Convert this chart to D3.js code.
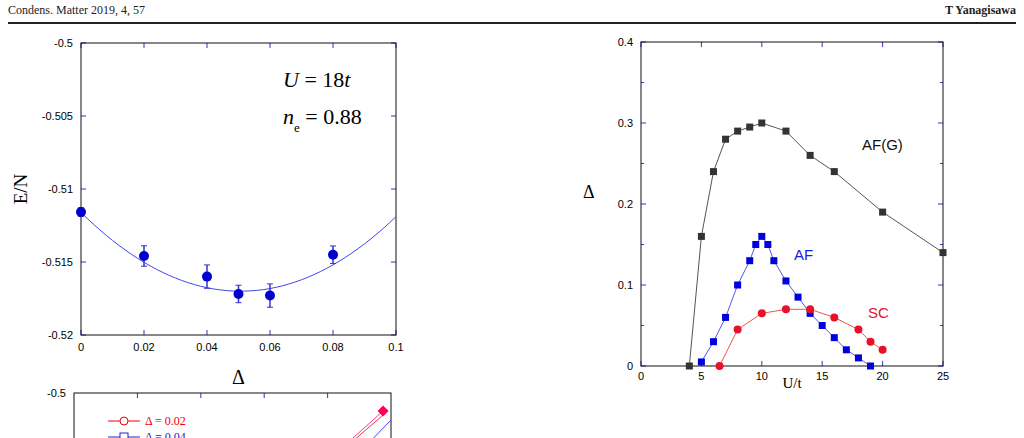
<!DOCTYPE html>
<html><head><meta charset="utf-8">
<script src="https://cdn.jsdelivr.net/npm/d3@7"></script>
<style>body{margin:0;background:#fff;overflow:hidden} .serif{font-family:"Liberation Serif","Times New Roman",serif}</style>
</head><body>
<script>
// data
const deltaX = [0, 0.02, 0.04, 0.05, 0.06, 0.08]
const energy = [-0.51158, -0.51459, -0.5160, -0.51719, -0.5173, -0.5145]
const energyErr = [0.0003, 0.0007, 0.0008, 0.0006, 0.0008, 0.0006]
const fitCoef = {a: 2.10, h: 0.0507, k: -0.5170}   // parabola fit E = a(x-h)^2 + k
const eTicks = [-0.5, -0.505, -0.51, -0.515, -0.52]
const dTicks = [0, 0.02, 0.04, 0.06, 0.08, 0.1]

const afgU = [4, 5, 6, 7, 8, 9, 10, 12, 14, 16, 20, 25]
const afgD = [0, 0.16, 0.24, 0.28, 0.29, 0.295, 0.3, 0.29, 0.26, 0.24, 0.19, 0.14]
const afU = [5, 6, 7, 8, 9, 9.5, 10, 10.5, 11, 12, 13, 14, 15, 16, 17, 18, 19]
const afD = [0.005, 0.03, 0.06, 0.1, 0.13, 0.15, 0.16, 0.15, 0.13, 0.105, 0.085, 0.065, 0.05, 0.035, 0.02, 0.01, 0]
const scU = [6.5, 8, 10, 12, 14, 16, 18, 19, 20]
const scD = [0, 0.045, 0.065, 0.07, 0.07, 0.06, 0.045, 0.03, 0.02]
const uTicks = [0, 5, 10, 15, 20, 25]
const rTicks = [0, 0.1, 0.2, 0.3, 0.4]

// lower (cut off) panel
const lowX = [0.88, 0.975]
const lowMag = [-0.5045, -0.5018]
const lowRed = [-0.5048, -0.5022]
const lowBlue = [-0.5045, -0.5027]
const lowBlueX = [0.945, 1.0]

const svg = d3.select('body').append('svg').attr('width', 1024).attr('height', 438)
  .style('font-family', 'Liberation Sans, Arial, sans-serif')

// page header
svg.append('text').attr('class', 'serif').attr('x', 8).attr('y', 14)
  .attr('font-size', 12).attr('fill', '#222').text('Condens. Matter 2019, 4, 57')
svg.append('text').attr('class', 'serif').attr('x', 1016).attr('y', 14).attr('text-anchor', 'end')
  .attr('font-size', 12).attr('font-weight', 'bold').attr('fill', '#222').text('T Yanagisawa')
svg.append('line').attr('x1', 8).attr('x2', 1016).attr('y1', 23).attr('y2', 23).attr('stroke', '#222').attr('stroke-width', 2)

function ticks(g, x, y, w, h, xs, xt, ys, yt, len) {
  xt.forEach(t => {
    g.append('line').attr('x1', xs(t)).attr('x2', xs(t)).attr('y1', y + h).attr('y2', y + h - len).attr('stroke', '#33c')
    g.append('line').attr('x1', xs(t)).attr('x2', xs(t)).attr('y1', y).attr('y2', y + len).attr('stroke', '#33c')
  })
  yt.forEach(t => {
    g.append('line').attr('x1', x).attr('x2', x + len).attr('y1', ys(t)).attr('y2', ys(t)).attr('stroke', '#33c')
    g.append('line').attr('x1', x + w).attr('x2', x + w - len).attr('y1', ys(t)).attr('y2', ys(t)).attr('stroke', '#33c')
  })
}

// left top panel
{
  const x0 = 81, x1 = 396, y0 = 43, y1 = 335
  const xs = d3.scaleLinear().domain([0, 0.1]).range([x0, x1])
  const ys = d3.scaleLinear().domain([-0.52, -0.5]).range([y1, y0])
  const g = svg.append('g')
  ticks(g, x0, y0, x1 - x0, y1 - y0, xs, dTicks, ys, eTicks, 5)
  g.append('rect').attr('x', x0).attr('y', y0).attr('width', x1 - x0).attr('height', y1 - y0)
    .attr('fill', 'none').attr('stroke', '#111')
  eTicks.forEach(t => g.append('text').attr('x', x0 - 8).attr('y', ys(t) + 4).attr('text-anchor', 'end')
    .attr('font-size', 11).text(t))
  dTicks.forEach(t => g.append('text').attr('x', xs(t)).attr('y', y1 + 16).attr('text-anchor', 'middle')
    .attr('font-size', 11).text(t))
  const fx = d3.range(0, 0.1001, 0.002)
  g.append('path').attr('d', d3.line().x(d => xs(d)).y(d => ys(fitCoef.a * (d - fitCoef.h) ** 2 + fitCoef.k))(fx))
    .attr('fill', 'none').attr('stroke', '#44e').attr('stroke-width', 1)
  deltaX.forEach((d, i) => {
    const cx = xs(d), lo = ys(energy[i] - energyErr[i]), hi = ys(energy[i] + energyErr[i])
    g.append('line').attr('x1', cx).attr('x2', cx).attr('y1', lo).attr('y2', hi).attr('stroke', '#33c').attr('stroke-width', 1.5)
    g.append('line').attr('x1', cx - 3).attr('x2', cx + 3).attr('y1', lo).attr('y2', lo).attr('stroke', '#33c')
    g.append('line').attr('x1', cx - 3).attr('x2', cx + 3).attr('y1', hi).attr('y2', hi).attr('stroke', '#33c')
    g.append('circle').attr('cx', cx).attr('cy', ys(energy[i])).attr('r', 5).attr('fill', '#0000cc')
  })
  g.append('text').attr('class', 'serif').attr('x', 27).attr('y', 189).attr('transform', 'rotate(-90,27,189)')
    .attr('text-anchor', 'middle').attr('font-size', 19).text('E/N')
  g.append('text').attr('class', 'serif').attr('x', xs(0.05)).attr('y', 384).attr('text-anchor', 'middle')
    .attr('font-size', 20).text('Δ')
  const lab = g.append('g').attr('class', 'serif').attr('font-size', 22)
  const t1 = lab.append('text').attr('x', 283).attr('y', 87)
  t1.append('tspan').attr('font-style', 'italic').text('U')
  t1.append('tspan').text(' = 18')
  t1.append('tspan').attr('font-style', 'italic').text('t')
  const t2 = lab.append('text').attr('x', 283).attr('y', 124)
  t2.append('tspan').attr('font-style', 'italic').text('n')
  t2.append('tspan').attr('font-size', 13).attr('dy', 8).text('e')
  t2.append('tspan').attr('dy', -8).text(' = 0.88')
}

// left bottom panel (cut off)
{
  const x0 = 74, x1 = 391, y0 = 393
  const xs = d3.scaleLinear().domain([0, 1]).range([x0, x1])
  const ys = d3.scaleLinear().domain([-0.5, -0.51]).range([y0, y0 + 100])
  const g = svg.append('g')
  d3.range(0.2, 1, 0.2).forEach(t => g.append('line').attr('x1', xs(t)).attr('x2', xs(t))
    .attr('y1', y0).attr('y2', y0 + 5).attr('stroke', '#33c'))
  g.append('rect').attr('x', x0).attr('y', y0).attr('width', x1 - x0).attr('height', 100)
    .attr('fill', 'none').attr('stroke', '#111')
  g.append('text').attr('x', x0 - 8).attr('y', y0 + 4).attr('text-anchor', 'end').attr('font-size', 11).text('-0.5')
  const ln = d3.line().x((d, i) => xs(lowX[i])).y(d => ys(d))
  g.append('path').attr('d', ln(lowMag)).attr('stroke', '#f3a').attr('fill', 'none')
  g.append('path').attr('d', ln(lowRed)).attr('stroke', '#e33').attr('fill', 'none')
  g.append('path').attr('d', d3.line().x((d, i) => xs(lowBlueX[i])).y(d => ys(d))(lowBlue)).attr('stroke', '#44e').attr('fill', 'none')
  g.append('path').attr('d', d3.symbol(d3.symbolSquare, 60)())
    .attr('transform', `translate(${xs(lowX[1])},${ys(lowMag[1])}) rotate(45)`).attr('fill', '#f05')
  g.append('line').attr('x1', 108).attr('x2', 140).attr('y1', 421).attr('y2', 421).attr('stroke', '#e00')
  g.append('circle').attr('cx', 124).attr('cy', 421).attr('r', 4).attr('fill', '#fff').attr('stroke', '#e00')
  g.append('text').attr('class', 'serif').attr('x', 145).attr('y', 425).attr('fill', '#e00')
    .attr('font-size', 12).text('Δ = 0.02')
  g.append('line').attr('x1', 108).attr('x2', 140).attr('y1', 437).attr('y2', 437).attr('stroke', '#22c')
  g.append('rect').attr('x', 120).attr('y', 433).attr('width', 8).attr('height', 8).attr('fill', '#fff').attr('stroke', '#22c')
  g.append('text').attr('class', 'serif').attr('x', 145).attr('y', 441).attr('fill', '#22c')
    .attr('font-size', 12).text('Δ = 0.04')
}

// right panel
{
  const x0 = 641, x1 = 943, y0 = 42, y1 = 366
  const xs = d3.scaleLinear().domain([0, 25]).range([x0, x1])
  const ys = d3.scaleLinear().domain([0, 0.4]).range([y1, y0])
  const g = svg.append('g')
  ticks(g, x0, y0, x1 - x0, y1 - y0, xs, uTicks, ys, rTicks, 5)
  ticks(g, x0, y0, x1 - x0, y1 - y0, xs, [], ys, [0.05, 0.15, 0.25, 0.35], 3)
  g.append('rect').attr('x', x0).attr('y', y0).attr('width', x1 - x0).attr('height', y1 - y0)
    .attr('fill', 'none').attr('stroke', '#111')
  rTicks.forEach(t => g.append('text').attr('x', x0 - 8).attr('y', ys(t) + 4).attr('text-anchor', 'end')
    .attr('font-size', 11).text(t))
  uTicks.forEach(t => g.append('text').attr('x', xs(t)).attr('y', y1 + 14).attr('text-anchor', 'middle')
    .attr('font-size', 11).text(t))
  const series = [
    {u: afgU, d: afgD, c: '#333', line: '#555', sym: 'sq'},
    {u: afU, d: afD, c: '#0000dd', line: '#55e', sym: 'sq'},
    {u: scU, d: scD, c: '#e8102a', line: '#e54', sym: 'ci'}
  ]
  series.forEach(s => {
    g.append('path').attr('d', d3.line().x((d, i) => xs(s.u[i])).y(d => ys(d))(s.d))
      .attr('fill', 'none').attr('stroke', s.line).attr('stroke-width', 1)
    s.d.forEach((d, i) => {
      if (s.sym === 'sq') g.append('rect').attr('x', xs(s.u[i]) - 3.5).attr('y', ys(d) - 3.5)
        .attr('width', 7).attr('height', 7).attr('fill', s.c)
      else g.append('circle').attr('cx', xs(s.u[i])).attr('cy', ys(d)).attr('r', 4).attr('fill', s.c)
    })
  })
  g.append('text').attr('x', 862).attr('y', 150).attr('font-size', 15).attr('fill', '#111').text('AF(G)')
  g.append('text').attr('x', 794).attr('y', 260).attr('font-size', 15).attr('fill', '#1a1ae0').text('AF')
  g.append('text').attr('x', 868).attr('y', 318).attr('font-size', 15).attr('fill', '#e8102a').text('SC')
  g.append('text').attr('class', 'serif').attr('x', 583).attr('y', 198).attr('font-size', 18).text('Δ')
  g.append('text').attr('class', 'serif').attr('x', xs(12.5)).attr('y', 388).attr('text-anchor', 'middle')
    .attr('font-size', 15).text('U/t')
}
</script>
</body></html>
